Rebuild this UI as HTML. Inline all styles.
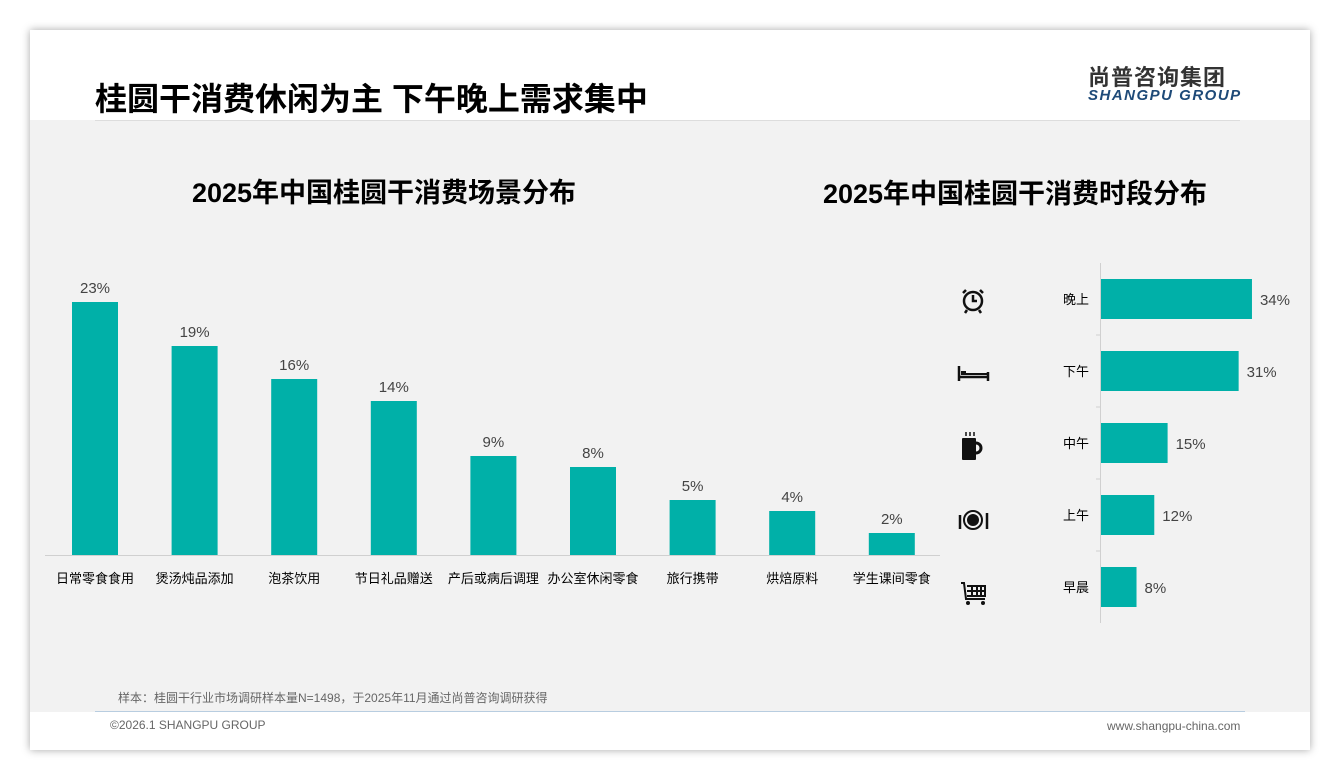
<!DOCTYPE html>
<html><head><meta charset="utf-8"><style>
body{margin:0;width:1340px;height:780px;background:#fff;font-family:"Liberation Sans","Noto Sans CJK SC",sans-serif;overflow:hidden}
#card{position:absolute;left:30px;top:30px;width:1280px;height:720px;background:#f2f2f2;box-shadow:0 0 8px rgba(0,0,0,.35)}
.abs{position:absolute}
</style></head><body>
<div id="card">
<div class="abs" style="left:0;top:0;width:1280px;height:90px;background:#fff"></div>
<div class="abs" style="left:65px;top:44px;font-size:32px;font-weight:bold;color:#000">桂圆干消费休闲为主 下午晚上需求集中</div>
<div class="abs" style="left:1058px;top:30px;font-size:22px;font-weight:bold;color:#333;letter-spacing:1px">尚普咨询集团</div>
<div class="abs" style="left:1058px;top:57px;font-size:15px;font-weight:bold;font-style:italic;color:#1e4a78;letter-spacing:1.5px">SHANGPU GROUP</div>
<div class="abs" style="left:65px;top:90px;width:1145px;height:1px;background:#ddd"></div>
<div class="abs" style="left:0;top:682px;width:1280px;height:38px;background:#fff"></div>
<div class="abs" style="left:88px;top:659px;font-size:12px;color:#666">样本：桂圆干行业市场调研样本量N=1498，于2025年11月通过尚普咨询调研获得</div>
<div class="abs" style="left:65px;top:681px;width:1150px;height:1px;background:#b8cde0"></div>
<div class="abs" style="left:80px;top:688px;font-size:12px;color:#666">©2026.1 SHANGPU GROUP</div>
<div class="abs" style="left:1077px;top:689px;font-size:12px;color:#666">www.shangpu-china.com</div>
</div>
<svg class="abs" style="left:0;top:0" width="1340" height="780" id="chart">
<text x="384" y="202" text-anchor="middle" font-size="27" font-weight="bold" fill="#000">2025年中国桂圆干消费场景分布</text>
<text x="1015" y="203" text-anchor="middle" font-size="27" font-weight="bold" fill="#000">2025年中国桂圆干消费时段分布</text>
<line x1="45" y1="555.5" x2="940" y2="555.5" stroke="#d0d0d0"/>
<line x1="1100.5" y1="263" x2="1100.5" y2="623" stroke="#d0d0d0"/>
<g id="icons" fill="#111" stroke="#111">
<g><circle cx="973" cy="301" r="9" fill="none" stroke-width="2.5"/><path d="M973 295v6h4M966 290l-3 3M980 290l3 3M967 310l-2 3M979 310l2 3" fill="none" stroke-width="2.5"/></g>
<g><path d="M959 366v15M988 372v9M959 377h29" fill="none" stroke-width="2.5"/><rect x="961" y="371" width="5" height="4" stroke="none"/><rect x="966" y="373" width="22" height="2" stroke="none"/></g>
<g><rect x="962" y="438" width="14" height="22" rx="1" stroke="none"/><path d="M976 443a5 5 0 0 1 0 10" fill="none" stroke-width="3"/><path d="M966 432v4M970 432v4M974 432v4" stroke-width="1.5"/></g>
<g><circle cx="973" cy="520" r="9" fill="none" stroke-width="2"/><circle cx="973" cy="520" r="6" stroke="none"/><path d="M960 515v14M987 513v16" stroke-width="2.5"/></g>
<g><path d="M961 583h3l2 16h19M967 586h18v10h-18M972 586v10M977 586v10M981 586v10M967 591h18" fill="none" stroke-width="2"/><circle cx="968" cy="603" r="2" stroke="none"/><circle cx="983" cy="603" r="2" stroke="none"/></g>
</g>
</svg>
<script>
const scenCats=["日常零食食用","煲汤炖品添加","泡茶饮用","节日礼品赠送","产后或病后调理","办公室休闲零食","旅行携带","烘焙原料","学生课间零食"];
const scenVals=[23,19,16,14,9,8,5,4,2];
const timeCats=["晚上","下午","中午","上午","早晨"];
const timeVals=[34,31,15,12,8];
const NS="http://www.w3.org/2000/svg";
const svg=document.getElementById('chart');
function mk(tag,attrs,txt){const e=document.createElementNS(NS,tag);for(const k in attrs)e.setAttribute(k,attrs[k]);if(txt!==undefined)e.textContent=txt;svg.appendChild(e);return e;}
const x0=95,dx=99.6,base=555,yPer=11,bw=46;
const xs=i=>x0+i*dx, yh=v=>v*yPer;
scenCats.forEach((c,i)=>{
 const r=mk('rect',{x:xs(i)-bw/2,y:base-yh(scenVals[i]),width:bw,height:yh(scenVals[i]),fill:'#00b0a8'});
 
 
 const t=mk('text',{x:xs(i),y:base-yh(scenVals[i])-9,'text-anchor':'middle','font-size':15,fill:'#444'},scenVals[i]+'%');
 
 
 const l=mk('text',{x:xs(i),y:583,'text-anchor':'middle','font-size':13,fill:'#000'},c);
 
 
});
const hx=1101,hPer=4.44,hy0=299,hdy=72,hh=40;
const hw=v=>v*hPer, ys=i=>hy0+i*hdy;
timeCats.forEach((c,i)=>{
 const r=mk('rect',{x:hx,y:ys(i)-hh/2,width:hw(timeVals[i]),height:hh,fill:'#00b0a8'});
 
 
 const t=mk('text',{x:hx+hw(timeVals[i])+8,y:ys(i)+6,'font-size':15,fill:'#444'},timeVals[i]+'%');
 
 
 const l=mk('text',{x:1063,y:ys(i)+5,'font-size':13,fill:'#000'},c);
 
 
 if(i>0){const tk=mk('line',{x1:1096,x2:1101,y1:ys(i)-36,y2:ys(i)-36,stroke:'#d0d0d0'});
 
 }
});
</script>
</body></html>
